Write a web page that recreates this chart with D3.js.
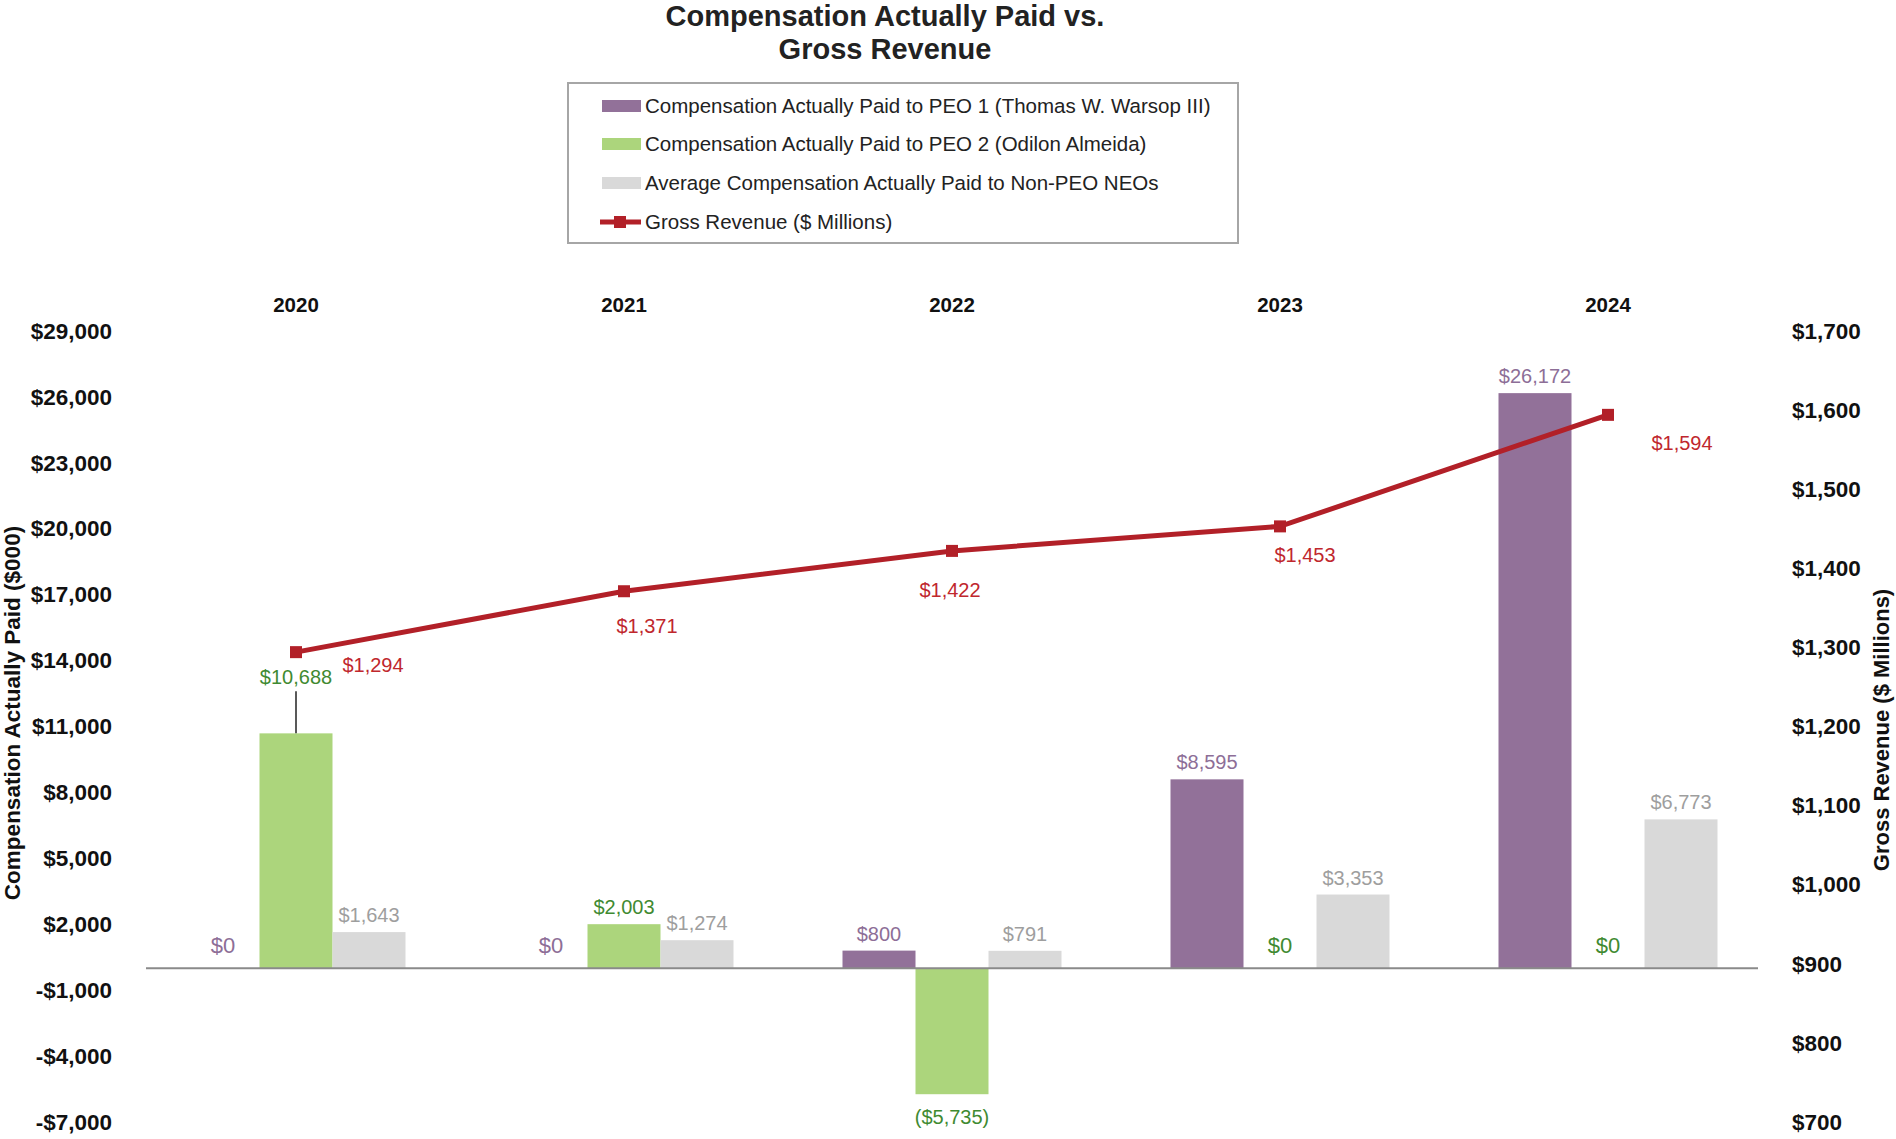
<!DOCTYPE html>
<html lang="en">
<head>
    <meta charset="UTF-8"/>
    <title>Compensation Actually Paid vs. Gross Revenue</title>
    <script src="https://d3js.org/d3.v7.min.js"></script>
    <style>
        body { margin: 0; background: #fff; }
        svg { font-family: "Liberation Sans", Arial, sans-serif; }
    </style>
</head>
<body>
<div id="chart"></div>

<script>
    // chart values
    var years = ["2020", "2021", "2022", "2023", "2024"];
    var peo1 = [0, 0, 800, 8595, 26172];
    var peo2 = [10688, 2003, -5735, 0, 0];
    var neo = [1643, 1274, 791, 3353, 6773];
    var revenue = [1294, 1371, 1422, 1453, 1594];

    var leftTicks = [-7000, -4000, -1000, 2000, 5000, 8000, 11000, 14000, 17000, 20000, 23000, 26000, 29000];
    var rightTicks = [700, 800, 900, 1000, 1100, 1200, 1300, 1400, 1500, 1600, 1700];

    var seriesNames = [
        "Compensation Actually Paid to PEO 1 (Thomas W. Warsop III)",
        "Compensation Actually Paid to PEO 2 (Odilon Almeida)",
        "Average Compensation Actually Paid to Non-PEO NEOs",
        "Gross Revenue ($ Millions)"
    ];

    var width = 1896;
    var height = 1139;

    var barColors = ["#927199", "#acd57c", "#d9d9d9"];
    var textColors = ["#8d6e97", "#3f8a31", "#9e9e9e"];
    var lineColor = "#b22028";

    var series = [peo1, peo2, neo];

    var svg = d3.select("#chart").append("svg")
        .attr("width", width).attr("height", height);

    // scales
    var xScale = d3.scalePoint().domain(years).range([296, 1608]);
    var subScale = d3.scaleBand().domain([0, 1, 2]).range([-109.5, 109.5]);
    var yLeft = d3.scaleLinear().domain([-7000, 29000]).range([1122, 331]);
    var yRight = d3.scaleLinear().domain([700, 1700]).range([1122, 331]);

    var money = d3.format(",");
    function dollar(d) {
        return (d < 0 ? "-" : "") + "$" + money(Math.abs(d));
    }

    // title
    svg.append("text").attr("x", 885).attr("y", 26).attr("text-anchor", "middle")
        .style("font-size", "29px").style("font-weight", "bold").attr("fill", "#222")
        .text("Compensation Actually Paid vs.");
    svg.append("text").attr("x", 885).attr("y", 59).attr("text-anchor", "middle")
        .style("font-size", "29px").style("font-weight", "bold").attr("fill", "#222")
        .text("Gross Revenue");

    // legend
    var legend = svg.append("g");
    legend.append("rect").attr("x", 568).attr("y", 83).attr("width", 670).attr("height", 160)
        .attr("fill", "#fff").attr("stroke", "#a6a6a6").attr("stroke-width", 2);
    var legendY = [106, 144, 183, 222];
    seriesNames.forEach(function (name, i) {
        if (i < 3) {
            legend.append("rect").attr("x", 602).attr("y", legendY[i] - 6).attr("width", 39).attr("height", 12)
                .attr("fill", barColors[i]);
        } else {
            legend.append("line").attr("x1", 600).attr("x2", 641).attr("y1", legendY[i]).attr("y2", legendY[i])
                .attr("stroke", lineColor).attr("stroke-width", 5);
            legend.append("rect").attr("x", 614).attr("y", legendY[i] - 6).attr("width", 12).attr("height", 12)
                .attr("fill", lineColor);
        }
        legend.append("text").attr("x", 645).attr("y", legendY[i] + 7)
            .style("font-size", "20.5px").attr("fill", "#222").text(name);
    });

    // year labels on top
    svg.selectAll(".year").data(years).enter().append("text")
        .attr("class", "year")
        .attr("x", function (d) { return xScale(d); })
        .attr("y", 312)
        .attr("text-anchor", "middle")
        .style("font-size", "20.5px").style("font-weight", "bold").attr("fill", "#111")
        .text(function (d) { return d; });

    // axes
    var leftAxis = d3.axisLeft(yLeft).tickValues(leftTicks).tickSize(0).tickPadding(0).tickFormat(dollar);
    var gl = svg.append("g").attr("transform", "translate(112,0)").call(leftAxis);
    var rightAxis = d3.axisRight(yRight).tickValues(rightTicks).tickSize(0).tickPadding(0).tickFormat(dollar);
    var gr = svg.append("g").attr("transform", "translate(1792,0)").call(rightAxis);
    [gl, gr].forEach(function (g) {
        g.select(".domain").remove();
        g.selectAll("text").style("font-size", "22.5px").style("font-weight", "bold")
            .style("font-family", "'Liberation Sans', Arial, sans-serif").attr("fill", "#111");
    });

    // axis titles
    svg.append("text").attr("transform", "translate(20,713) rotate(-90)").attr("text-anchor", "middle")
        .style("font-size", "22.5px").style("font-weight", "bold").attr("fill", "#111")
        .text("Compensation Actually Paid ($000)");
    svg.append("text").attr("transform", "translate(1889,730) rotate(-90)").attr("text-anchor", "middle")
        .style("font-size", "22px").style("font-weight", "bold").attr("fill", "#111")
        .text("Gross Revenue ($ Millions)");

    // bars
    series.forEach(function (values, s) {
        var g = svg.append("g");
        g.selectAll("rect").data(values).enter().append("rect")
            .attr("x", function (d, i) { return xScale(years[i]) + subScale(s); })
            .attr("width", subScale.bandwidth())
            .attr("y", function (d) { return yLeft(Math.max(d, 0)); })
            .attr("height", function (d) { return Math.abs(yLeft(d) - yLeft(0)); })
            .attr("fill", barColors[s]);

        g.selectAll("text").data(values).enter().append("text")
            .attr("x", function (d, i) { return xScale(years[i]) + subScale(s) + subScale.bandwidth() / 2; })
            .attr("y", function (d, i) {
                if (d < 0) return yLeft(d) + 30;
                if (d === 0) return yLeft(0) - 15;
                // 2020 PEO 2 label is lifted with a leader line
                if (s === 1 && i === 0) return yLeft(d) - 49;
                return yLeft(d) - 10;
            })
            .attr("text-anchor", "middle")
            .style("font-size", function (d) { return d === 0 ? "22px" : "20px"; })
            .attr("fill", textColors[s])
            .text(function (d) { return d < 0 ? "($" + money(-d) + ")" : "$" + money(d); });
    });

    // leader line for lifted label
    svg.append("line")
        .attr("x1", xScale(years[0]) + subScale(1) + subScale.bandwidth() / 2)
        .attr("x2", xScale(years[0]) + subScale(1) + subScale.bandwidth() / 2)
        .attr("y1", yLeft(peo2[0]) - 42).attr("y2", yLeft(peo2[0]))
        .attr("stroke", "#222").attr("stroke-width", 1.5);

    // zero line
    svg.append("line").attr("x1", 146).attr("x2", 1758).attr("y1", yLeft(0)).attr("y2", yLeft(0))
        .attr("stroke", "#8a8a8a").attr("stroke-width", 2);

    // revenue line
    var line = d3.line()
        .x(function (d, i) { return xScale(years[i]); })
        .y(function (d) { return yRight(d); });
    svg.append("path").datum(revenue).attr("d", line)
        .attr("fill", "none").attr("stroke", lineColor).attr("stroke-width", 5);
    svg.selectAll(".marker").data(revenue).enter().append("rect")
        .attr("class", "marker")
        .attr("x", function (d, i) { return xScale(years[i]) - 6; })
        .attr("y", function (d) { return yRight(d) - 6; })
        .attr("width", 12).attr("height", 12)
        .attr("fill", lineColor);

    // revenue labels, offset from the points
    var labelDx = [77, 23, -2, 25, 74];
    var labelDy = [20, 42, 46, 36, 35];
    svg.selectAll(".revlabel").data(revenue).enter().append("text")
        .attr("class", "revlabel")
        .attr("x", function (d, i) { return xScale(years[i]) + labelDx[i]; })
        .attr("y", function (d, i) { return yRight(d) + labelDy[i]; })
        .attr("text-anchor", "middle")
        .style("font-size", "20px").attr("fill", "#c0272d")
        .text(function (d) { return "$" + money(d); });
</script>
</body>
</html>
